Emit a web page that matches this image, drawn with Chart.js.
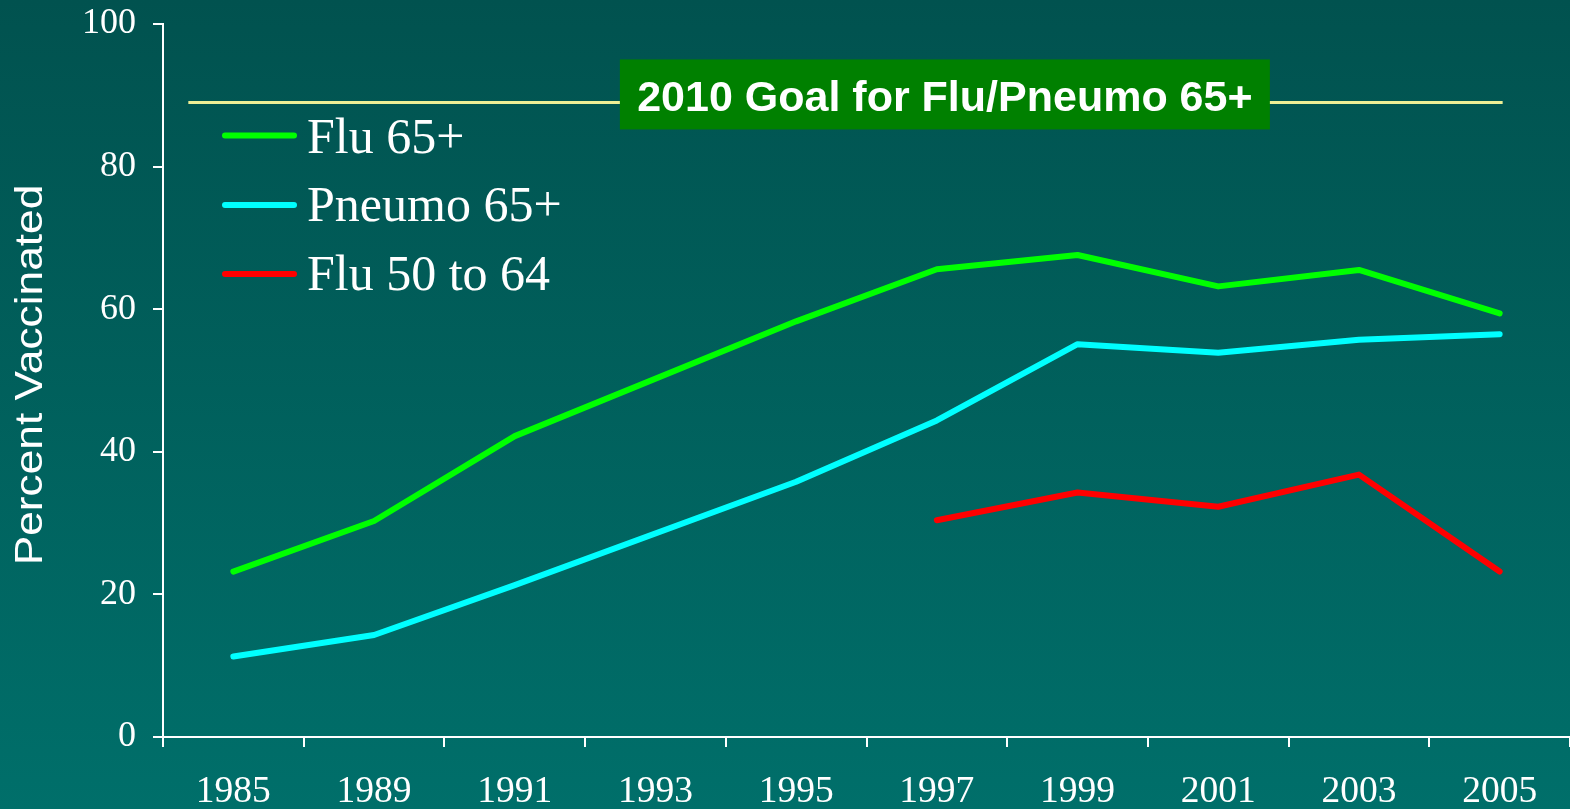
<!DOCTYPE html>
<html><head><meta charset="utf-8">
<script src="https://cdn.jsdelivr.net/npm/chart.js@4"></script>
<style>
html,body{margin:0;padding:0;width:1570px;height:809px;overflow:hidden;
  background:linear-gradient(to bottom,#01524f 0%,#006f6a 100%);}
canvas{display:block;}
</style></head>
<body>
<canvas id="c" width="1570" height="809"></canvas>
<script>
// ---- data ----
const years = ['1985','1989','1991','1993','1995','1997','1999','2001','2003','2005'];
const flu65 = [23.2, 30.3, 42.2, null, 58.3, 65.6, 67.6, 63.2, 65.5, 59.4];
const pneumo65 = [11.3, 14.3, 21.3, null, 35.8, 44.4, 55.1, 53.9, 55.7, 56.5];
const flu5064 = [null, null, null, null, null, 30.4, 34.3, 32.3, 36.8, 23.2];
const seriesNames = ['Flu 65+', 'Pneumo 65+', 'Flu 50 to 64'];
const yTicks = [0, 20, 40, 60, 80, 100];
const goalValue = 89;
const goalLabel = '2010 Goal for Flu/Pneumo 65+';
const yTitle = 'Percent Vaccinated';

const colors = ['#00ff00', '#00ffff', '#ff0000'];

const goalPlugin = {
  id: 'goal',
  beforeDatasetsDraw(chart) {
    const {ctx, scales: {x, y}} = chart;
    const gy = y.getPixelForValue(goalValue);
    const x0 = x.left + x.width * 0.018;
    const x1 = x.getPixelForValue(years.length - 1) + 3;
    ctx.save();
    ctx.strokeStyle = '#eeee95';
    ctx.lineWidth = 3;
    ctx.beginPath(); ctx.moveTo(x0, gy); ctx.lineTo(x1, gy); ctx.stroke();
    // label box
    const cx = x.left + x.width * 0.5557;
    const bw = 650, bh = 70;
    const by = gy - 43;
    ctx.fillStyle = '#008000';
    ctx.fillRect(cx - bw / 2, by, bw, bh);
    ctx.fillStyle = '#ffffff';
    ctx.font = 'bold 43px "Liberation Sans", Arial, sans-serif';
    ctx.textAlign = 'center';
    ctx.textBaseline = 'alphabetic';
    ctx.fillText(goalLabel, cx, by + 52);
    ctx.restore();
  }
};

const legendPlugin = {
  id: 'customLegend',
  afterDraw(chart) {
    const {ctx} = chart;
    ctx.save();
    const lx0 = 225, lx1 = 294, tx = 307;
    const rows = [135.5, 205, 274];
    const baselines = [153, 221, 290];
    chart.data.datasets.forEach((ds, i) => {
      const yy = rows[i];
      ctx.strokeStyle = ds.borderColor;
      ctx.lineWidth = 6;
      ctx.lineCap = 'round';
      ctx.beginPath(); ctx.moveTo(lx0, yy); ctx.lineTo(lx1, yy); ctx.stroke();
      ctx.fillStyle = '#ffffff';
      ctx.font = '50px "Liberation Serif", "Times New Roman", serif';
      ctx.textAlign = 'left';
      ctx.textBaseline = 'alphabetic';
      ctx.fillText(ds.label, tx, baselines[i]);
    });
    ctx.restore();
  }
};

const yTitlePlugin = {
  id: 'yTitle',
  afterDraw(chart) {
    const {ctx} = chart;
    ctx.save();
    ctx.translate(42, 375);
    ctx.rotate(-Math.PI / 2);
    ctx.scale(1.165, 1);
    ctx.fillStyle = '#ffffff';
    ctx.font = '38px "Liberation Sans", Arial, sans-serif';
    ctx.textAlign = 'center';
    ctx.textBaseline = 'alphabetic';
    ctx.fillText(yTitle, 0, 0);
    ctx.restore();
  }
};

new Chart(document.getElementById('c'), {
  type: 'line',
  data: {
    labels: years,
    datasets: [
      {label: seriesNames[0], data: flu65, borderColor: colors[0], spanGaps: true},
      {label: seriesNames[1], data: pneumo65, borderColor: colors[1], spanGaps: true},
      {label: seriesNames[2], data: flu5064, borderColor: colors[2], spanGaps: true}
    ].map(d => Object.assign(d, {
      borderWidth: 6, pointRadius: 0, tension: 0, fill: false,
      borderCapStyle: 'round', borderJoinStyle: 'round', backgroundColor: d.borderColor
    }))
  },
  options: {
    responsive: false,
    animation: false,
    devicePixelRatio: 1,
    layout: {padding: {top: 24, left: 0, right: 0, bottom: 0}},
    plugins: {legend: {display: false}, tooltip: {enabled: false}},
    scales: {
      x: {
        offset: true,
        grid: {offset: true, drawOnChartArea: false, color: '#ffffff', lineWidth: 2, tickLength: 10},
        border: {color: '#ffffff', width: 2},
        ticks: {color: '#ffffff', font: {family: '"Liberation Serif", "Times New Roman", serif', size: 37.5},
                padding: 23, maxRotation: 0, minRotation: 0, autoSkip: false},
        afterFit(s) { s.height = 72; s.paddingLeft = 0; s.paddingRight = 0; }
      },
      y: {
        min: 0, max: 100,
        afterBuildTicks(s) { s.ticks = yTicks.map(v => ({value: v})); },
        ticks: {color: '#ffffff', font: {family: '"Liberation Serif", "Times New Roman", serif', size: 36}, padding: 17},
        grid: {drawOnChartArea: false, color: '#ffffff', lineWidth: 2, tickLength: 10},
        border: {color: '#ffffff', width: 2},
        afterFit(s) { s.width = 163; s.paddingTop = 0; s.paddingBottom = 0; }
      }
    }
  },
  plugins: [goalPlugin, legendPlugin, yTitlePlugin]
});
</script>
</body></html>
